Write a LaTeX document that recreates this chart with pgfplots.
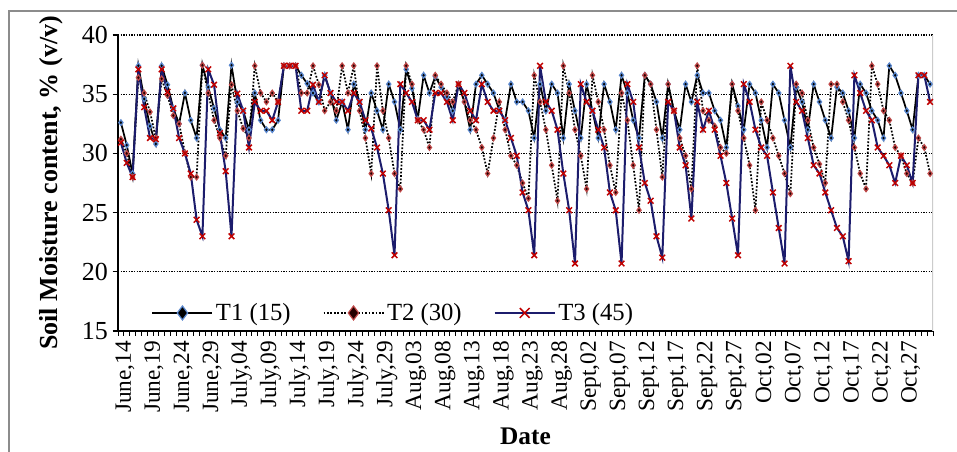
\documentclass[border=0pt]{standalone}
\usepackage{pgfplots}
\usepackage{pgfplotstable}
\pgfplotsset{compat=1.18}
\usepackage{fontspec}
\setmainfont{Liberation Serif}
\definecolor{tonecol}{HTML}{5A88D0}
\definecolor{ttwocol}{HTML}{C04848}
\definecolor{navyline}{HTML}{1C1C6C}
\definecolor{xred}{HTML}{C00000}
\pgfplotstableread{
d T1 T2 T3
0 32.6 31.2 30.9
1 30.7 30.0 29.2
2 28.3 28.0 28.0
3 37.4 36.4 37.1
4 34.6 35.1 33.9
5 32.3 33.5 31.3
6 30.8 31.3 31.2
7 37.4 36.3 37.1
8 35.8 34.9 35.2
9 33.8 33.2 33.8
10 32.5 32.5 31.3
11 35.1 30.05 30.0
12 32.8 28.0 28.3
13 31.3 28.0 24.4
14 37.45 37.45 23.0
15 35.6 35.1 37.1
16 33.8 32.8 35.8
17 32.0 31.3 31.7
18 31.3 29.8 28.5
19 37.45 35.8 23.0
20 34.35 33.6 35.05
21 33.6 32.1 33.6
22 32.0 31.3 30.5
23 35.1 37.4 34.35
24 32.8 35.1 33.6
25 32.0 34.35 33.6
26 32.0 35.1 32.8
27 32.8 34.35 34.35
28 37.4 37.4 37.4
29 37.4 37.4 37.4
30 37.4 37.4 37.4
31 36.6 35.1 33.6
32 35.9 35.1 33.6
33 35.1 37.4 35.8
34 34.35 35.8 34.35
35 36.6 33.6 36.6
36 35.1 34.35 35.1
37 32.8 33.6 34.35
38 34.35 37.4 34.35
39 32.0 35.1 33.6
40 35.85 37.4 35.1
41 34.35 33.6 34.35
42 32.0 31.3 32.8
43 35.1 28.3 32.1
44 33.6 37.4 30.5
45 32.0 33.6 28.3
46 35.85 31.3 25.2
47 34.35 28.3 21.4
48 32.0 27.0 35.85
49 37.1 37.4 35.1
50 35.5 35.85 34.35
51 32.9 32.8 32.8
52 36.6 32.0 32.8
53 35.1 30.5 32.0
54 36.5 36.6 35.1
55 35.6 35.85 35.1
56 34.8 35.1 34.35
57 33.6 34.35 32.8
58 35.85 35.85 35.85
59 34.35 34.35 35.1
60 32.0 32.8 33.6
61 35.85 32.0 32.8
62 36.6 30.5 35.85
63 35.85 28.3 34.35
64 35.1 31.3 33.6
65 33.65 34.35 33.6
66 32.8 32.0 32.8
67 35.85 29.8 31.3
68 34.35 29.0 29.8
69 34.35 27.5 26.7
70 33.6 26.2 25.2
71 31.3 36.6 21.4
72 35.85 34.35 37.4
73 33.6 32.0 34.35
74 35.85 29.0 33.6
75 35.1 26.0 32.0
76 31.3 37.4 28.3
77 35.85 35.1 25.2
78 33.6 32.0 20.7
79 31.3 29.8 35.85
80 35.85 27.0 34.35
81 33.6 36.6 33.6
82 31.3 34.35 32.0
83 35.85 32.0 30.5
84 34.35 29.0 26.7
85 32.0 26.7 25.2
86 36.6 35.1 20.7
87 35.1 32.8 35.85
88 32.8 29.0 34.35
89 31.3 25.2 30.5
90 36.6 36.6 27.5
91 35.85 35.85 26.0
92 34.35 32.0 23.0
93 31.3 28.0 21.2
94 35.85 35.85 34.35
95 33.6 33.6 33.6
96 32.0 31.3 30.5
97 35.85 29.8 29.0
98 34.35 27.0 24.5
99 36.6 37.4 34.35
100 35.1 33.6 32.0
101 35.1 32.8 33.6
102 33.6 32.3 32.0
103 32.8 30.5 29.8
104 30.5 30.0 27.5
105 35.85 35.85 24.5
106 34.0 33.6 21.4
107 32.0 31.3 35.85
108 35.85 29.0 34.35
109 35.1 25.2 32.0
110 32.8 34.35 30.5
111 30.5 32.8 29.8
112 35.85 31.3 26.7
113 35.1 29.8 23.7
114 32.8 28.3 20.7
115 30.5 26.6 37.4
116 35.6 35.85 34.35
117 34.35 35.1 33.6
118 32.0 32.8 31.3
119 35.85 30.5 29.0
120 34.35 29.1 28.3
121 32.8 27.5 26.7
122 31.3 35.85 25.2
123 35.6 35.85 23.7
124 35.1 34.35 23.0
125 33.6 32.8 20.9
126 31.3 30.5 36.6
127 35.85 28.3 35.1
128 35.1 27.0 33.6
129 33.6 37.4 32.8
130 32.8 35.85 30.5
131 31.3 33.6 29.8
132 37.4 32.8 29.0
133 36.6 30.5 27.5
134 35.1 29.8 29.8
135 33.6 28.3 29.0
136 32.0 27.5 27.5
137 36.6 31.3 36.6
138 36.6 30.5 36.6
139 35.85 28.3 34.35
}\moist
\begin{document}
\begin{tikzpicture}
\useasboundingbox (-88.5pt,-90pt) rectangle (629.25pt,248.25pt);
\fill[white] (-88.5pt,-90pt) rectangle (629.25pt,248.25pt);
\draw[black!45, line width=1pt] (-81.75pt,-95pt) -- (-81.75pt,240pt) -- (640pt,240pt);
\begin{axis}[
  at={(0pt,0pt)}, anchor=south west,
  width=611.25pt, height=222pt, scale only axis,
  xmin=-0.5, xmax=139.5, ymin=15, ymax=40,
  axis x line*=bottom, axis y line*=left,
  axis line style={line width=1.1pt, black},
  ytick={15,20,...,40},
  ymajorgrids,
  grid style={black, line width=1pt, dash pattern=on 1pt off 1pt},
  xtick={0,5,...,135},
  xticklabels={{June,14},{June,19},{June,24},{June,29},{July,04},{July,09},{July,14},{July,19},{July,24},{July,29},{Aug,03},{Aug,08},{Aug,13},{Aug,18},{Aug,23},{Aug,28},{Sept,02},{Sept,07},{Sept,12},{Sept,17},{Sept,22},{Sept,27},{Oct,02},{Oct,07},{Oct,12},{Oct,17},{Oct,22},{Oct,27}},
  minor xtick={-0.5,0.5,...,139.5},
  tick align=outside,
  major tick length=4pt, minor tick length=3.5pt,
  major x tick style={draw=none},
  minor x tick style={black, line width=0.6pt},
  ytick style={black, line width=0.8pt},
  xticklabel style={rotate=90, anchor=east, font=\fontsize{17.5}{17.5}\selectfont, yshift=-3pt},
  yticklabel style={font=\fontsize{19.5}{19.5}\selectfont},
  /pgf/number format/assume math mode=true,
  ylabel={Soil Moisture content, \% (v/v)},
  xlabel={Date},
  ylabel style={at={(axis description cs:-0.082,0.5)}, anchor=center, font=\bfseries\fontsize{19.5}{19.5}\selectfont},
  xlabel style={at={(axis description cs:0.5,-0.356)}, anchor=center, font=\bfseries\fontsize{19}{19}\selectfont},
  legend style={at={(axis description cs:0.036,0.061)}, anchor=west, draw=none, fill=none,
    font=\fontsize{18.5}{18.5}\selectfont, legend columns=3,
    /tikz/every even column/.append style={column sep=22pt}},
  legend image code/.code={
    \draw[mark repeat=2,mark phase=2,#1] plot coordinates {(0pt,0pt) (22.5pt,0pt) (45pt,0pt)};
  },
  legend image post style={mark size=5.2pt},
]
\addplot[black, line width=1.3pt, mark=diamond*, mark size=2.1pt,
  mark options={solid, fill=black, draw=tonecol, line width=0.9pt}]
  table[x=d, y=T1] {\moist};
\addlegendentry{T1 (15)}
\addplot[black, line width=1.3pt, dash pattern=on 1.3pt off 1.3pt, mark=diamond*, mark size=2.1pt,
  mark options={solid, fill=black!85!red, draw=ttwocol, line width=0.9pt}]
  table[x=d, y=T2] {\moist};
\addlegendentry{T2 (30)}
\addplot[navyline, line width=1.5pt, mark=x, mark size=3pt,
  mark options={solid, draw=xred, line width=1.1pt}]
  table[x=d, y=T3] {\moist};
\addlegendentry{T3 (45)}
\draw[black!20, line width=0.8pt] (rel axis cs:1,0) -- (rel axis cs:1,1);
\end{axis}
\end{tikzpicture}
\end{document}
